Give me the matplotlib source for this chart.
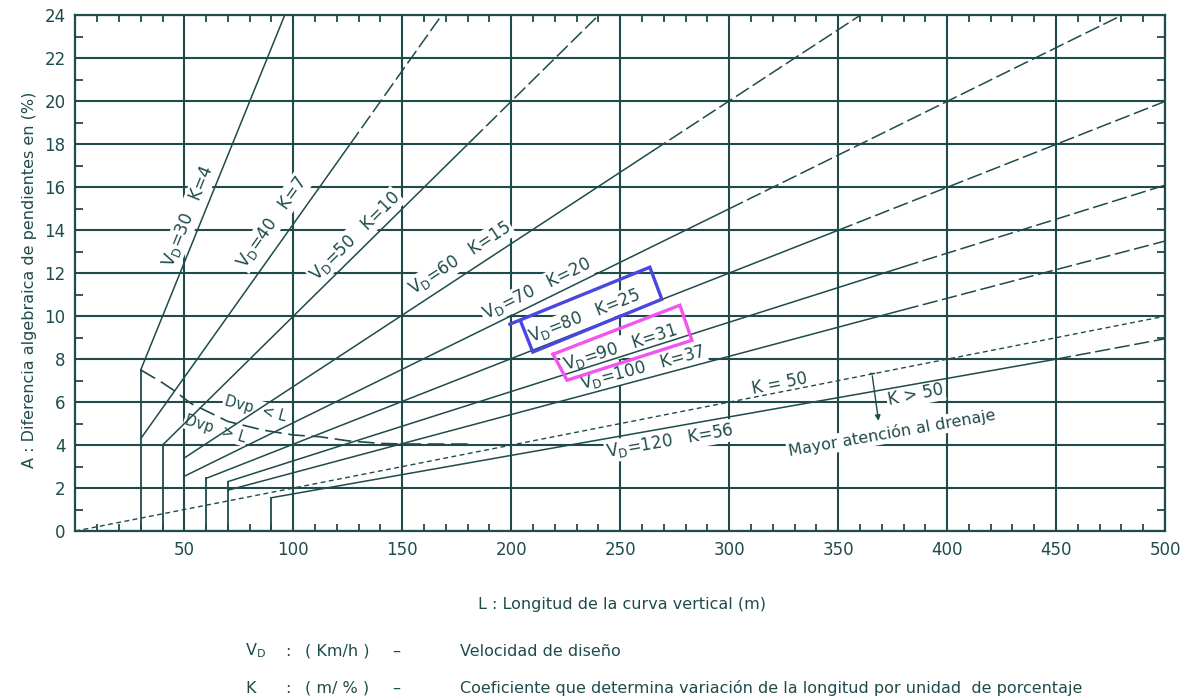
import numpy as np
import matplotlib.pyplot as plt

INK = "#1f4b4b"

# design lines A = L / K, one per design speed
vd = [30, 40, 50, 60, 70, 80, 90, 100, 120]
k = [4, 7, 10, 15, 20, 25, 31, 37, 56]
l_start = [30, 30, 40, 50, 50, 60, 70, 70, 90]
a_start = [7.5, 4.3, 4.0, 3.4, 2.55, 2.45, 2.3, 1.9, 1.55]
l_break = [96, 126, 182, 265, 300, 350, 380, 380, 450]
a_break = [24, 18.0, 18.2, 17.7, 15.0, 14.0, 12.3, 10.3, 8.0]
l_end = [96, 168, 240, 360, 480, 500, 500, 500, 500]
a_end = [24, 24, 24, 24, 24, 20.0, 16.1, 13.5, 8.95]

# minimum length verticals
vert_l = [30, 40, 60, 70, 90]
vert_a = [7.5, 4.0, 2.45, 2.3, 1.55]

# Dvp = L boundary
bnd_l = [30, 40, 45, 53, 70, 86, 100, 112, 125, 140, 150, 180]
bnd_a = [7.5, 6.9, 6.56, 5.94, 5.1, 4.7, 4.47, 4.39, 4.2, 4.08, 4.05, 4.05]

# K = 50 drainage line
k50_l = [0, 500]
k50_a = [0, 10]

# label anchors (L, A)
lab_l = [51.7, 90.2, 128.3, 176.5, 211.8, 233.8, 249.9, 260.4, 272.8]
lab_a = [14.65, 14.37, 13.72, 12.70, 11.26, 10.0, 8.56, 7.58, 4.19]

blue_box_l = [199.4, 263.6, 269.1, 209.9, 204.5]
blue_box_a = [9.63, 12.28, 10.79, 8.33, 9.72]
pink_box_l = [219.2, 277.4, 282.9, 225.6, 219.2]
pink_box_a = [8.23, 10.51, 8.88, 7.02, 8.23]

fig = plt.figure(figsize=(11.81, 7.0), dpi=100)
ax = fig.add_axes([0.0638, 0.2414, 0.9227, 0.7365])
ax.set_xlim(0, 500)
ax.set_ylim(0, 24)

for s in ax.spines.values():
    s.set_color(INK)
    s.set_linewidth(1.6)

ax.set_xticks(np.arange(50, 501, 50))
ax.set_xticks([x for x in range(10, 500, 10) if x % 50], minor=True)
ax.set_yticks(np.arange(0, 25, 2))
ax.set_yticks(np.arange(1, 24, 2), minor=True)
ax.tick_params(which="major", length=0, labelsize=12, labelcolor=INK)
ax.tick_params(axis="x", which="major", pad=7)
ax.tick_params(axis="y", which="major", pad=7)
ax.tick_params(which="minor", direction="in", color=INK, width=1.3,
               top=True, right=True)
ax.tick_params(axis="x", which="minor", length=5)
ax.tick_params(axis="y", which="minor", length=6)
ax.grid(True, which="major", color=INK, linewidth=1.5, zorder=1)
ax.set_axisbelow(True)

dash_long = (0, (10, 3))
for i in range(len(k)):
    ax.plot([l_start[i], l_break[i]], [a_start[i], a_break[i]],
            color=INK, lw=1.1, zorder=4)
    if l_break[i] < l_end[i]:
        ax.plot([l_break[i], l_end[i]], [a_break[i], a_end[i]],
                color=INK, lw=1.1, linestyle=dash_long, zorder=4)

for x, a in zip(vert_l, vert_a):
    ax.plot([x, x], [0, a], color=INK, lw=1.3, zorder=4)

ax.plot(bnd_l, bnd_a, color=INK, lw=1.2, linestyle=(0, (10, 4)), zorder=4)
ax.plot(k50_l, k50_a, color=INK, lw=1.0, linestyle=(0, (3.5, 2.5)), zorder=4)


def screen_angle(x, y, slope):
    ang = np.degrees(np.arctan(slope))
    return ax.transData.transform_angles(np.array([ang]),
                                         np.array([[x, y]]))[0]


box = dict(facecolor="white", edgecolor="none", pad=1.0)
for i in range(len(k)):
    rot = screen_angle(lab_l[i], lab_a[i], 1.0 / k[i])
    ax.text(lab_l[i], lab_a[i],
            "V$_\\mathregular{D}$=%d   K=%d" % (vd[i], k[i]),
            rotation=rot, rotation_mode="anchor", ha="center", va="center",
            fontsize=12, color=INK, bbox=box, zorder=3)

ax.plot(blue_box_l, blue_box_a, color="#4848e0", lw=2.4, zorder=5,
        solid_joinstyle="miter")
ax.plot(pink_box_l, pink_box_a, color="#f055f0", lw=2.4, zorder=5,
        solid_joinstyle="miter")

rot50 = screen_angle(323, 6.8, 1.0 / 50)
ax.text(323.3, 6.84, "K = 50", rotation=rot50, rotation_mode="anchor",
        ha="center", va="center", fontsize=12, color=INK, bbox=box, zorder=3)
ax.text(385.6, 6.33, "K > 50", rotation=rot50, rotation_mode="anchor",
        ha="center", va="center", fontsize=12, color=INK, bbox=box, zorder=3)
ax.text(374.6, 4.55, "Mayor atención al drenaje", rotation=10,
        rotation_mode="anchor", ha="center", va="center", fontsize=11.5,
        color=INK, bbox=box, zorder=3)
ax.annotate("", xy=(368.7, 5.0), xytext=(365.5, 7.35),
            arrowprops=dict(arrowstyle="-|>", color=INK, lw=1.0,
                            mutation_scale=8), zorder=5)
ax.plot([364.5, 366.5], [7.35, 7.35], color=INK, lw=1.0, zorder=5)

ax.text(82.5, 5.70, "Dvp  < L", rotation=-15, rotation_mode="anchor",
        ha="center", va="center", fontsize=10.5, color=INK, bbox=box, zorder=3)
ax.text(64.5, 4.75, "Dvp  > L", rotation=-17, rotation_mode="anchor",
        ha="center", va="center", fontsize=10.5, color=INK, bbox=box, zorder=3)

fig.text(0.0254, 0.60, "A : Diferencia algebraica de pendientes en (%)",
         rotation=90, ha="center", va="center", fontsize=11.5, color=INK)
fig.text(0.527, 0.137, "L : Longitud de la curva vertical (m)",
         ha="center", va="center", fontsize=11.5, color=INK)

rows = [
    ("V$_\\mathregular{D}$", "( Km/h )", "Velocidad de diseño", 0.070),
    ("K", "( m/ % )",
     "Coeficiente que determina variación de la longitud por unidad  de porcentaje",
     0.017),
]
for sym, unit, desc, y in rows:
    fig.text(245 / 1181, y, sym, ha="left", va="center", fontsize=11.5, color=INK)
    fig.text(285 / 1181, y, ":", ha="left", va="center", fontsize=11.5, color=INK)
    fig.text(305 / 1181, y, unit, ha="left", va="center", fontsize=11.5, color=INK)
    fig.text(392 / 1181, y, "–", ha="left", va="center", fontsize=11.5, color=INK)
    fig.text(460 / 1181, y, desc, ha="left", va="center", fontsize=11.5, color=INK)

fig.savefig("out.png", dpi=100, facecolor="white")
